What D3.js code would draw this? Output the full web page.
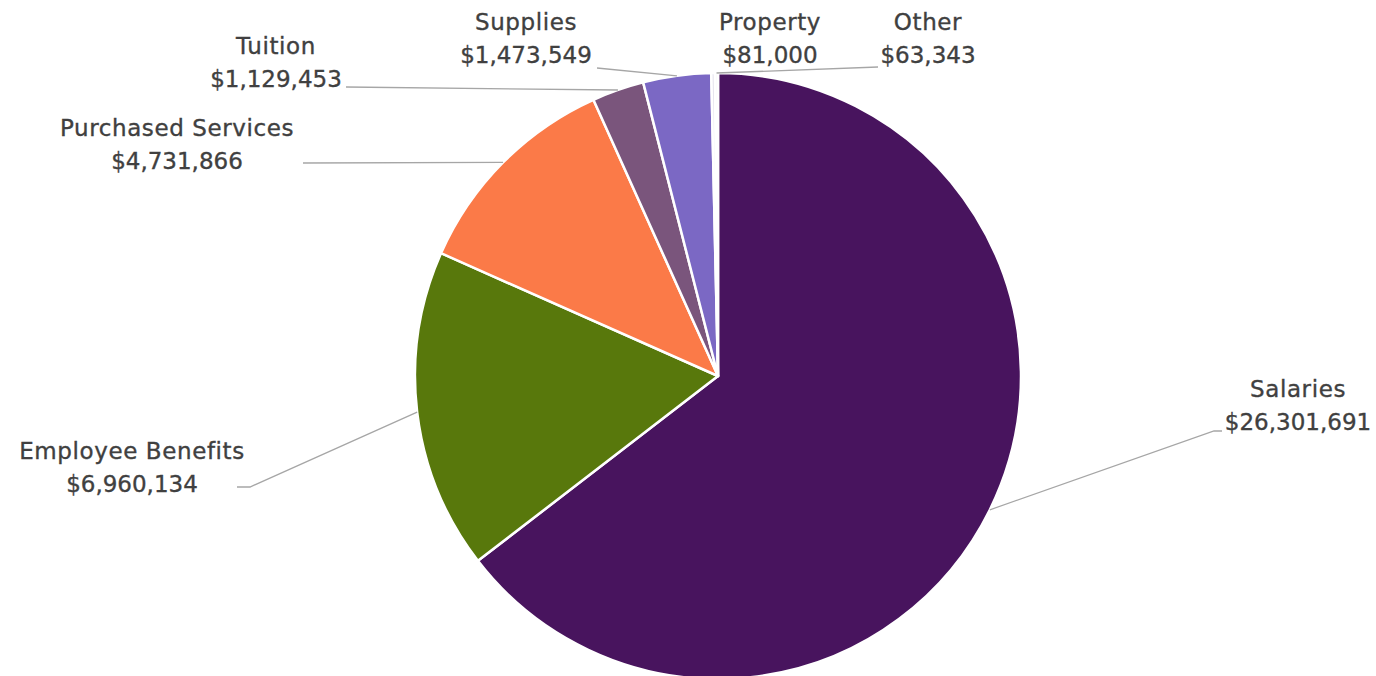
<!DOCTYPE html>
<html>
<head>
<meta charset="utf-8">
<script src="https://cdn.jsdelivr.net/npm/d3@7"></script>
<style>
  body { margin: 0; background: #fff; }
  text { font-family: "DejaVu Sans", sans-serif; fill: #404040; stroke: #404040; stroke-width: 0.35px; }
</style>
</head>
<body>
<svg id="chart" width="1376" height="676"></svg>
<script>
// data
const categories = ["Salaries", "Employee Benefits", "Purchased Services", "Tuition", "Supplies", "Property", "Other"];
const values = [26301691, 6960134, 4731866, 1129453, 1473549, 81000, 63343];
const colors = ["#48145E", "#58780C", "#FB7A48", "#7A557C", "#7B68C4", "#E6E4EE", "#F6F6F6"];

// label layout (block centre x, first line centre y) and leader line points
const labelPos = [[1298, 389], [132, 451], [177, 128], [276, 46], [526, 22], [770, 22], [928, 22]];
const leaderEnd = [
  [[1214, 431], [1222, 431]],
  [[250, 487], [237, 487]],
  [[303, 163]],
  [[346, 87]],
  [[597, 68]],
  null,
  [[878, 67]]
];

const cx = 718, cy = 376, radius = 303;
const lineGap = 33;

const svg = d3.select("#chart");
const g = svg.append("g").attr("transform", `translate(${cx},${cy})`);

const pie = d3.pie().sort(null).value(d => d.value);
const data = categories.map((c, i) => ({ name: c, value: values[i], color: colors[i] }));
const arcs = pie(data);

const arc = d3.arc().innerRadius(0).outerRadius(radius);
const outer = d3.arc().innerRadius(radius).outerRadius(radius);

g.selectAll("path.slice")
  .data(arcs)
  .enter().append("path")
  .attr("class", "slice")
  .attr("d", arc)
  .attr("fill", d => d.data.color)
  .attr("stroke", "#fff")
  .attr("stroke-width", 2.5)
  .attr("stroke-linejoin", "round");

// leader lines
const line = d3.line();
const leaders = svg.append("g");
arcs.forEach((d, i) => {
  if (!leaderEnd[i]) return;
  const c = outer.centroid(d);
  const pts = [[cx + c[0], cy + c[1]]].concat(leaderEnd[i]);
  leaders.append("path")
    .attr("d", line(pts))
    .attr("fill", "none")
    .attr("stroke", "#A6A6A6")
    .attr("stroke-width", 1.3);
});

// labels
const fmt = d3.format("$,");
const labels = svg.append("g");
arcs.forEach((d, i) => {
  const [x, y] = labelPos[i];
  const t = labels.append("text")
    .attr("text-anchor", "middle")
    .attr("font-size", 23);
  t.append("tspan").attr("x", x).attr("y", y).attr("dy", "0.35em")
    .attr("letter-spacing", 0.6).text(d.data.name);
  t.append("tspan").attr("x", x).attr("y", y + lineGap).attr("dy", "0.35em").text(fmt(d.data.value));
});
</script>
</body>
</html>
